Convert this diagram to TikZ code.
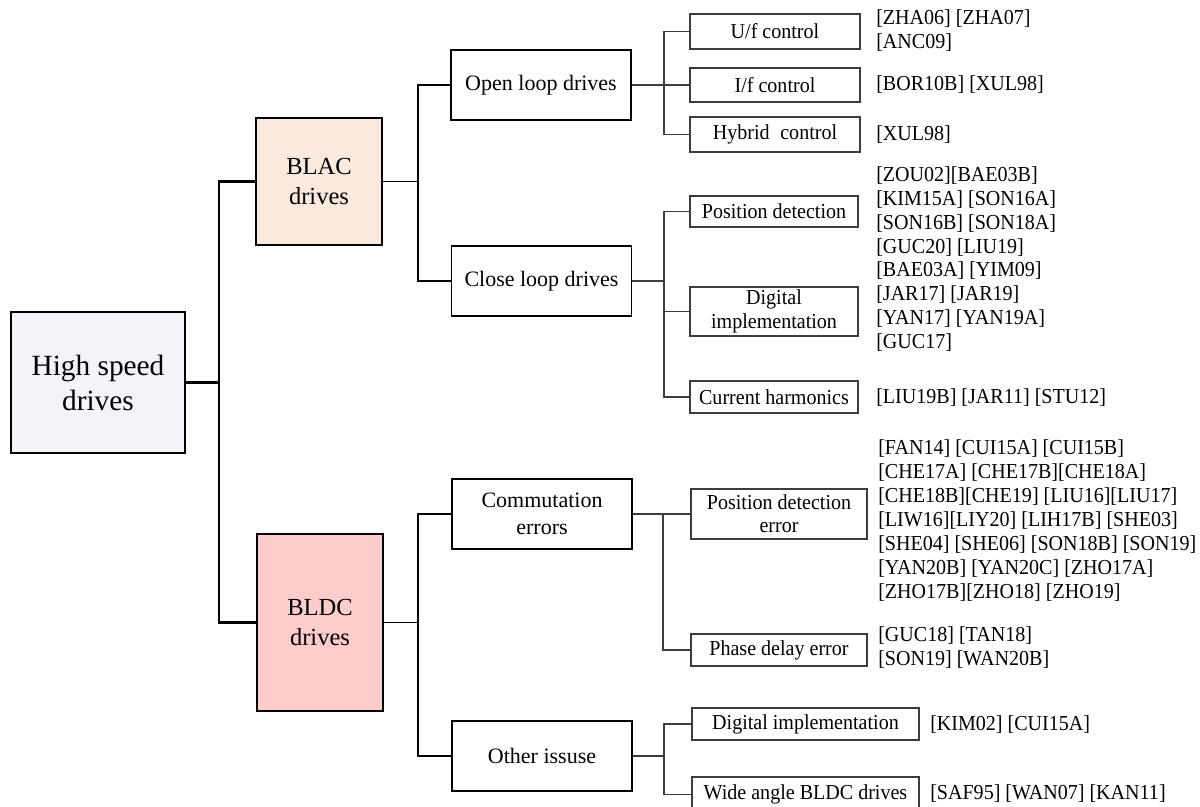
\documentclass[tikz,border=0pt]{standalone}
\usepackage{fontspec}
\setmainfont{Liberation Serif}
\newfontfamily\condserif[FakeStretch=0.94]{Liberation Serif}
\definecolor{hsdfill}{RGB}{243,243,249}
\definecolor{blacfill}{RGB}{250,234,222}
\definecolor{bldcfill}{RGB}{255,204,204}
\definecolor{thinline}{RGB}{60,60,60}
\begin{document}
\begin{tikzpicture}[x=0.75pt,y=-0.75pt,
  hsdbox/.style={draw, line width=1.7pt, fill=hsdfill, align=center, inner sep=0pt,
    font=\fontsize{22}{26.25}\selectfont},
  lvone/.style={draw, line width=1.7pt, align=center, inner sep=0pt,
    minimum width=94.5pt, font=\fontsize{18.4}{22.5}\selectfont},
  lvtwo/.style={draw, line width=1.4pt, align=center, inner sep=0pt,
    minimum width=135pt, minimum height=52.5pt, font=\fontsize{16.5}{20.25}\selectfont},
  lvthree/.style={draw=thinline, line width=1.1pt, align=center, inner sep=0pt,
    font=\condserif\fontsize{16}{17.5}\selectfont},
  refs/.style={anchor=west, align=left, inner sep=0pt, font=\condserif\fontsize{16}{18}\selectfont},
  linkA/.style={line width=1.7pt},
  linkB/.style={line width=1.3pt},
  linkC/.style={line width=1pt, draw=thinline}]
\useasboundingbox (0,0) rectangle (1200,807);
\clip (0,0) rectangle (1200,807);

% level 0
\node[hsdbox, minimum width=130.5pt, minimum height=105.75pt] (hsd) at (98,382.5) {High speed\\drives};

% level 1
\node[lvone, fill=blacfill, minimum height=95.25pt] (blac) at (319,181.5) {BLAC\\drives};
\node[lvone, fill=bldcfill, minimum height=132.75pt] (bldc) at (320,622.5) {BLDC\\drives};

% level 2
\node[lvtwo] (open) at (541,85) {Open loop drives};
\node[lvtwo] (close) at (541.5,281) {Close loop drives};
\node[lvtwo] (comm) at (542,514) {Commutation\\errors};
\node[lvtwo] (other) at (542,756) {Other issuse};

% level 3
\node[lvthree, minimum width=127.5pt, minimum height=26.25pt] (uf) at (775,31.5) {U/f control};
\node[lvthree, minimum width=127.5pt, minimum height=25.5pt] (if) at (775,85) {I/f control};
\node[lvthree, minimum width=127.5pt, minimum height=26.25pt] (hyb) at (775,134.5) {Hybrid\enspace control};
\node[lvthree, minimum width=126pt, minimum height=23.25pt] (posdet) at (774,211.5) {Position detection};
\node[lvthree, minimum width=126pt, minimum height=36.75pt] (digimp) at (774,311.5) {Digital\\implementation};
\node[lvthree, minimum width=126pt, minimum height=24pt] (curharm) at (774,397) {Current harmonics};
\node[lvthree, minimum width=132pt, minimum height=37.5pt] (pde) at (779,514) {Position detection\\error};
\node[lvthree, minimum width=132pt, minimum height=24pt] (phd) at (779,650) {Phase delay error};
\node[lvthree, minimum width=170.25pt, minimum height=24pt] (dimp) at (805.5,724) {Digital implementation};
\node[lvthree, minimum width=170.25pt, minimum height=26.25pt] (wide) at (805.5,794.5) {Wide angle BLDC drives};

% references
\node[refs] (r1) at (876,31) {[ZHA06] [ZHA07]\\{}[ANC09]};
\node[refs] (r2) at (876,85) {[BOR10B] [XUL98]};
\node[refs] (r3) at (876,135) {[XUL98]};
\node[refs] (r4) at (876,212) {[ZOU02][BAE03B]\\{}[KIM15A] [SON16A]\\{}[SON16B] [SON18A]\\{}[GUC20] [LIU19]};
\node[refs] (r5) at (876,307) {[BAE03A] [YIM09]\\{}[JAR17] [JAR19]\\{}[YAN17] [YAN19A]\\{}[GUC17]};
\node[refs] (r6) at (876,398) {[LIU19B] [JAR11] [STU12]};
\node[refs] (r7) at (878,521) {[FAN14] [CUI15A] [CUI15B]\\{}[CHE17A] [CHE17B][CHE18A]\\{}[CHE18B][CHE19] [LIU16][LIU17]\\{}[LIW16][LIY20] [LIH17B] [SHE03]\\{}[SHE04] [SHE06] [SON18B] [SON19]\\{}[YAN20B] [YAN20C] [ZHO17A]\\{}[ZHO17B][ZHO18] [ZHO19]};
\node[refs] (r8) at (878,648) {[GUC18] [TAN18]\\{}[SON19] [WAN20B]};
\node[refs] (r9) at (930,725) {[KIM02] [CUI15A]};
\node[refs] (r10) at (930,794) {[SAF95] [WAN07] [KAN11]};

% junctions
\coordinate (j0) at (219,382.5);
\coordinate (j1) at (418,181.5);
\coordinate (j2) at (418,622.5);
\coordinate (j3) at (664,85);
\coordinate (j4) at (664,281);
\coordinate (j5) at (663,514);
\coordinate (j6) at (664,756);

% connectors
\draw[linkA] (hsd.east) -- (j0);
\draw[linkA] (blac.west) -| (j0) |- (bldc.west);

\draw[linkB] (blac.east) -- (j1);
\draw[linkB] (open.west) -| (j1) |- (close.west);
\draw[linkB] (bldc.east) -- (j2);
\draw[linkB] (comm.west) -| (j2) |- (other.west);

\draw[linkC] (open.east) -- (j3);
\draw[linkC] (uf.west) -| (j3) |- (hyb.west);
\draw[linkC] (j3) -- (if.west);

\draw[linkC] (close.east) -- (j4);
\draw[linkC] (posdet.west) -| (j4) |- (curharm.west);
\draw[linkC] (digimp.west) -| (j4);

\draw[linkC] (comm.east) -- (pde.west);
\draw[linkC] (j5) |- (phd.west);

\draw[linkC] (other.east) -- (j6);
\draw[linkC] (dimp.west) -| (j6) |- (wide.west);
\end{tikzpicture}
\end{document}
